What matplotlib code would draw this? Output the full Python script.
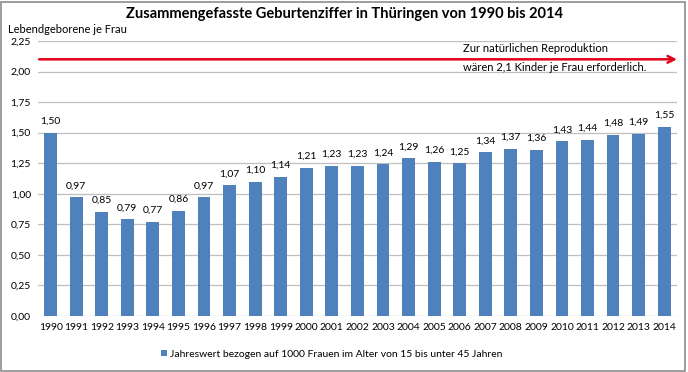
import numpy as np
from matplotlib import pyplot as plt
from matplotlib.patches import Rectangle

years = [str(y) for y in range(1990, 2015)]
values = [1.50, 0.97, 0.85, 0.79, 0.77, 0.86, 0.97, 1.07, 1.10, 1.14,
          1.21, 1.23, 1.23, 1.24, 1.29, 1.26, 1.25, 1.34, 1.37, 1.36,
          1.43, 1.44, 1.48, 1.49, 1.55]
reproduction = 2.1
y_ticks = [0, 0.25, 0.5, 0.75, 1.0, 1.25, 1.5, 1.75, 2.0, 2.25]

plt.rcParams['font.family'] = ['Lato', 'DejaVu Sans']

fig = plt.figure(figsize=(6.88, 3.72), dpi=100)
ax = fig.add_axes([0.055, 0.1505, 0.929, 0.7393])

x = np.arange(len(years))
bars = ax.bar(x, values, width=0.5, color='#4F81BD',
              label='Jahreswert bezogen auf 1000 Frauen im Alter von 15 bis unter 45 Jahren',
              zorder=3)
ax.bar_label(bars, labels=[f'{v:.2f}'.replace('.', ',') for v in values],
             padding=5, fontsize=7.5)

ax.set_xlim(-0.5, len(years) - 0.5)
ax.set_ylim(0, 2.25)
ax.set_yticks(y_ticks)
ax.set_yticklabels([f'{t:.2f}'.replace('.', ',') for t in y_ticks], fontsize=7.5)
ax.set_xticks(x, years, fontsize=7.5)
ax.tick_params(length=0, pad=5)
ax.grid(axis='y', color='#BFBFBF', linewidth=0.9, zorder=0)
for s in ax.spines.values():
    s.set_visible(False)

# red arrow for the reproduction level
ax.annotate('', xy=(len(years) - 0.5, reproduction), xytext=(-0.45, reproduction),
            arrowprops=dict(arrowstyle='->', color='#E3001B', lw=1.8,
                            mutation_scale=12, shrinkA=0, shrinkB=0),
            zorder=4, annotation_clip=False)
ax.text(0.665, 0.972, 'Zur natürlichen Reproduktion', transform=ax.transAxes,
        fontsize=8, va='center')
ax.text(0.665, 0.902, 'wären 2,1 Kinder je Frau erforderlich.', transform=ax.transAxes,
        fontsize=8, va='center')

fig.text(0.5, 0.962, 'Zusammengefasste Geburtenziffer in Thüringen von 1990 bis 2014',
         ha='center', va='center', fontsize=10.5, fontweight='bold')
fig.text(0.012, 0.922, 'Lebendgeborene je Frau', ha='left', va='center', fontsize=8)

ax.legend(loc='center', bbox_to_anchor=(0.46, -0.1386), frameon=False, fontsize=7.5,
          handlelength=0.6, handleheight=0.6, handletextpad=0.3)

fig.patches.append(Rectangle((0.002, 0.004), 0.994, 0.99, transform=fig.transFigure,
                             fill=False, edgecolor='#8C8C8C', linewidth=1.2))

fig.savefig('out.png', dpi=100)
